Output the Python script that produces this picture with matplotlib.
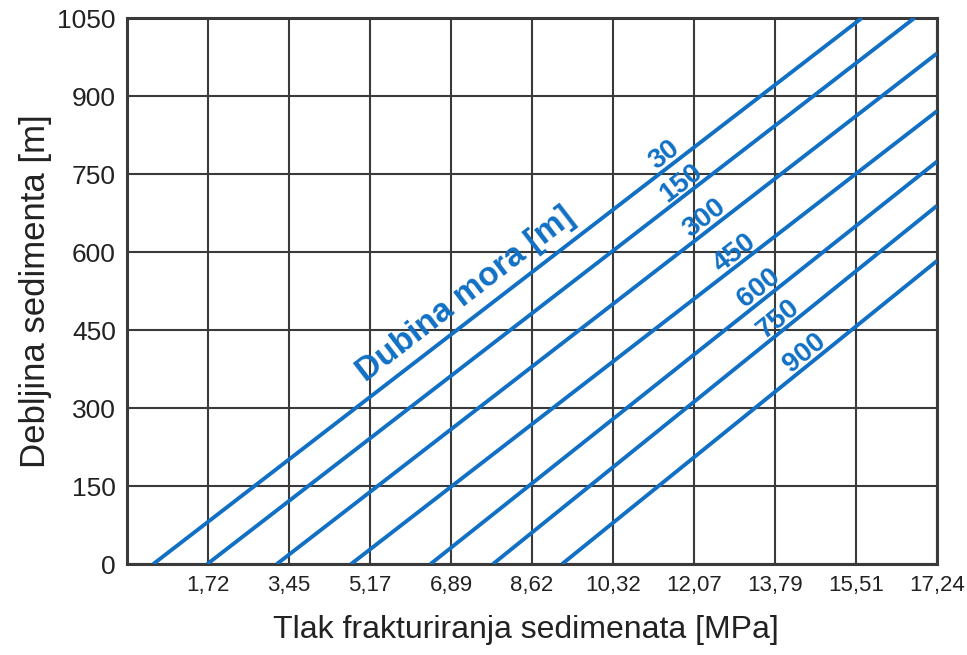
import numpy as np
import matplotlib
matplotlib.use("Agg")
import matplotlib.pyplot as plt

plt.rcParams["font.family"] = ["Liberation Sans", "DejaVu Sans"]

# values
depths = [30, 150, 300, 450, 600, 750, 900]          # sea depth [m]
x_start = [0.56, 1.71, 3.19, 4.77, 6.46, 7.79, 9.26]  # MPa at 0 m sediment
x_end = [15.64, 16.76, 17.24, 17.24, 17.24, 17.24, 17.24]
y_end = [1050, 1050, 982, 871, 774, 689, 583]

x_ticks = [1.724 * i for i in range(1, 11)]
x_tick_labels = ["1,72", "3,45", "5,17", "6,89", "8,62", "10,32",
                 "12,07", "13,79", "15,51", "17,24"]
y_ticks = [0, 150, 300, 450, 600, 750, 900, 1050]

# where along each line the depth number sits (MPa)
label_x = [11.59, 11.95, 12.44, 13.08, 13.60, 14.02, 14.58]

BLUE = "#1170c4"
GRID = "#3a3a3a"
TXT = "#222222"

fig = plt.figure(figsize=(9.67, 6.55), dpi=100)
ax = fig.add_axes([0.1313, 0.1389, 0.8377, 0.8336])

ax.set_xlim(0, 17.24)
ax.set_ylim(0, 1050)
ax.set_xticks(x_ticks)
ax.set_xticklabels(x_tick_labels, fontsize=16, color=TXT)
ax.set_yticks(y_ticks)
ax.set_yticklabels([str(v) for v in y_ticks], fontsize=19, color=TXT)
ax.tick_params(length=0, pad=8)
ax.tick_params(axis="x", pad=8)
ax.grid(True, color=GRID, linewidth=1.5)
ax.set_axisbelow(True)
for sp in ax.spines.values():
    sp.set_color(GRID)
    sp.set_linewidth(2.2)

for d, x0, x1, y1 in zip(depths, x_start, x_end, y_end):
    ax.plot([x0, x1], [0, y1], color=BLUE, linewidth=2.8,
            solid_capstyle="butt", zorder=3)

fig.canvas.draw()


def _angle(x0, x1, y1):
    p0 = ax.transData.transform((x0, 0))
    p1 = ax.transData.transform((x1, y1))
    return np.degrees(np.arctan2(p1[1] - p0[1], p1[0] - p0[0]))


def _along(text, x0, x1, y1, lx, off, size):
    ang = _angle(x0, x1, y1)
    ly = y1 * (lx - x0) / (x1 - x0)
    r = np.radians(ang)
    ax.annotate(text, (lx, ly),
                xytext=(-off * np.sin(r), off * np.cos(r)),
                textcoords="offset points", rotation=ang, rotation_mode="anchor",
                ha="center", va="bottom", fontsize=size, fontweight="bold",
                color=BLUE, zorder=4)


for d, x0, x1, y1, lx in zip(depths, x_start, x_end, y_end, label_x):
    _along(str(d), x0, x1, y1, lx, -1, 20)

# title along the 30 m line
_along("Dubina mora [m]", x_start[0], x_end[0], y_end[0], 7.5, 5, 24)

ax.set_xlabel("Tlak frakturiranja sedimenata [MPa]", fontsize=23, color=TXT)
ax.set_ylabel("Debljina sedimenta [m]", fontsize=25, color=TXT)
ax.xaxis.set_label_coords(0.4926, -0.094)
ax.yaxis.set_label_coords(-0.092, 0.5)

fig.savefig("out.png", dpi=100)
